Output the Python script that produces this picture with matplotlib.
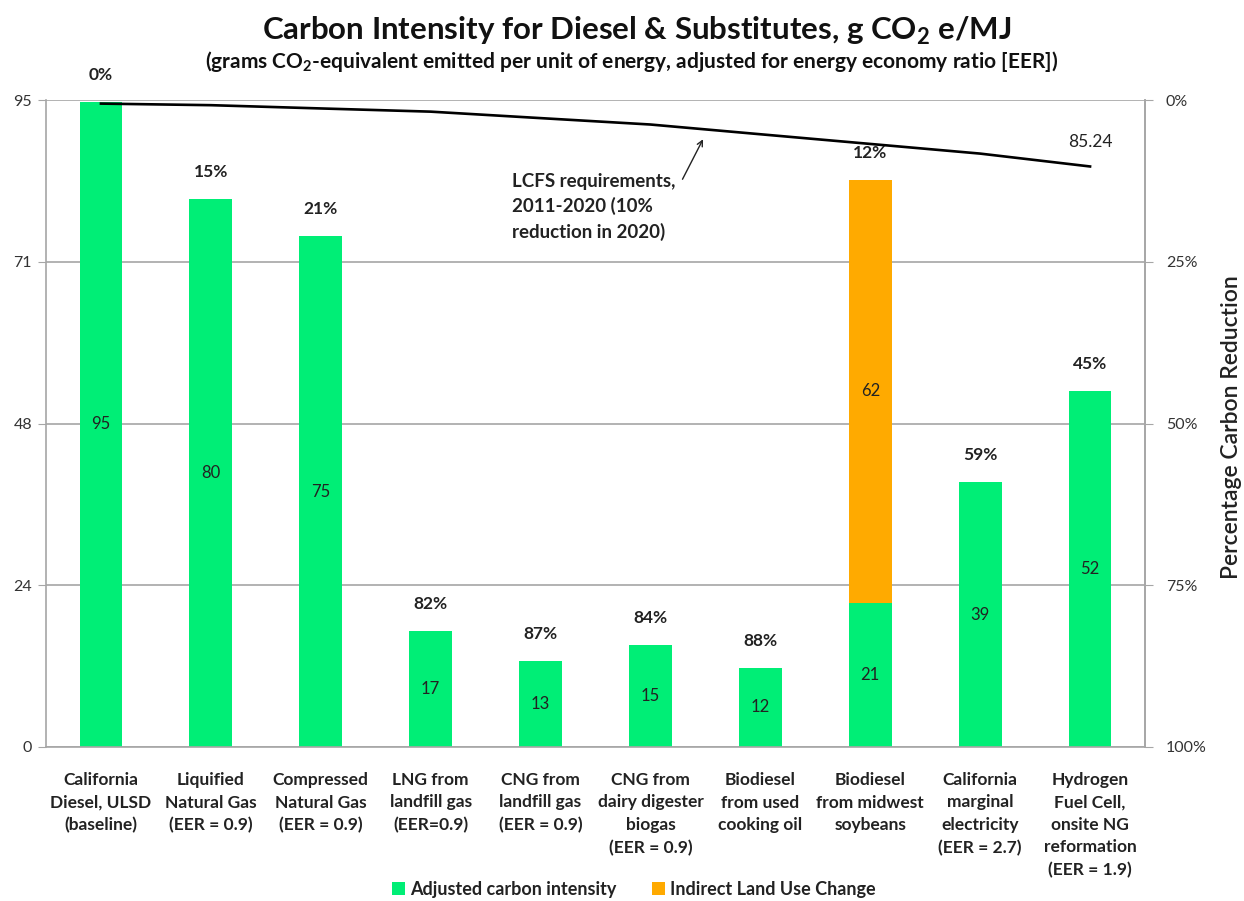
import numpy as np
import matplotlib
matplotlib.use("Agg")
import matplotlib.pyplot as plt

plt.rcParams["font.family"] = ["Lato", "DejaVu Sans"]
plt.rcParams["mathtext.fontset"] = "custom"
plt.rcParams["mathtext.rm"] = "Lato"
plt.rcParams["mathtext.bf"] = "Lato:bold"

# data
categories = [
    "California\nDiesel, ULSD\n(baseline)",
    "Liquified\nNatural Gas\n(EER = 0.9)",
    "Compressed\nNatural Gas\n(EER = 0.9)",
    "LNG from\nlandfill gas\n(EER=0.9)",
    "CNG from\nlandfill gas\n(EER = 0.9)",
    "CNG from\ndairy digester\nbiogas\n(EER = 0.9)",
    "Biodiesel\nfrom used\ncooking oil",
    "Biodiesel\nfrom midwest\nsoybeans",
    "California\nmarginal\nelectricity\n(EER = 2.7)",
    "Hydrogen\nFuel Cell,\nonsite NG\nreformation\n(EER = 1.9)",
]
adjusted_ci = [94.71, 80.4, 75.0, 17.0, 12.6, 15.0, 11.6, 21.2, 38.9, 52.2]
iluc = [0, 0, 0, 0, 0, 0, 0, 62.0, 0, 0]
pct_labels = ["0%", "15%", "21%", "82%", "87%", "84%", "88%", "12%", "59%", "45%"]
# LCFS diesel schedule 2011-2020
lcfs_req = [94.47, 94.24, 93.76, 93.29, 92.34, 91.40, 89.97, 88.55, 87.13, 85.24]

left_ticks = [0, 23.75, 47.5, 71.25, 95]
left_ticklabels = ["0", "24", "48", "71", "95"]
right_ticks = [0, 25, 50, 75, 100]

GREEN = "#00EE76"
ORANGE = "#FFAA00"
GRID = "#A6A6A6"


def main():
    fig = plt.figure(figsize=(12.44, 9.01), dpi=100)
    ax = fig.add_axes([46 / 1244, 1 - 747 / 901, (1145 - 46) / 1244, 647 / 901])

    x = np.arange(len(categories))
    ax.bar(x, adjusted_ci, width=0.39, color=GREEN, zorder=2,
           label="Adjusted carbon intensity")
    ax.bar(x, iluc, width=0.39, bottom=adjusted_ci, color=ORANGE, zorder=2,
           label="Indirect Land Use Change")

    # values inside bars
    for i in range(len(x)):
        ax.text(x[i], adjusted_ci[i] / 2, f"{adjusted_ci[i]:.0f}",
                ha="center", va="center", fontsize=12, color="#222222", zorder=3)
        if iluc[i] > 0:
            ax.text(x[i], adjusted_ci[i] + iluc[i] / 2, f"{iluc[i]:.0f}",
                    ha="center", va="center", fontsize=12, color="#222222", zorder=3)
        ax.annotate(pct_labels[i], (x[i], adjusted_ci[i] + iluc[i]),
                    xytext=(0, 19.5), textcoords="offset points",
                    ha="center", va="center", fontsize=12.5, fontweight="bold",
                    color="#222222")

    # LCFS requirement line
    ax.plot(x, lcfs_req, color="black", lw=1.9, zorder=4)
    ax.annotate(f"{lcfs_req[-1]:.2f}", (x[-1], lcfs_req[-1]),
                xytext=(0, 17.5), textcoords="offset points",
                ha="center", va="center", fontsize=12.5, color="#222222")
    ax.annotate("", xy=(5.49, 89.6), xytext=(5.28, 83.0),
                arrowprops=dict(arrowstyle="->", color="#222222", lw=1.0))
    ax.text(3.74, 84.3, "LCFS requirements,\n2011-2020 (10%\nreduction in 2020)",
            ha="left", va="top", fontsize=13.5, fontweight="bold",
            color="#222222", linespacing=1.5)

    ax.set_xlim(-0.5, len(categories) - 0.5)
    ax.set_ylim(0, 95)
    ax.set_yticks(left_ticks)
    ax.set_yticklabels(left_ticklabels)
    ax.set_xticks(x)
    ax.set_xticklabels(categories, fontsize=12.5, fontweight="bold",
                       color="#222222", linespacing=1.5, va="top")
    ax.tick_params(axis="x", length=0, pad=18)
    ax.tick_params(axis="y", length=6, color=GRID, labelsize=11.5,
                   labelcolor="#333333", pad=4)
    ax.grid(axis="y", color=GRID, lw=1.2, zorder=0)
    ax.spines["top"].set_visible(False)
    for side in ["left", "bottom", "right"]:
        ax.spines[side].set_color(GRID)
        ax.spines[side].set_linewidth(1.2)

    ax2 = ax.twinx()
    ax2.set_ylim(100, 0)
    ax2.set_yticks(right_ticks)
    ax2.set_yticklabels([f"{t}%" for t in right_ticks])
    ax2.tick_params(axis="y", length=6, color=GRID, labelsize=11.5,
                    labelcolor="#333333", pad=9)
    for side in ["top", "left", "bottom"]:
        ax2.spines[side].set_visible(False)
    ax2.spines["right"].set_color(GRID)
    ax2.spines["right"].set_linewidth(1.2)

    fig.text(1232 / 1244, 1 - 427 / 901, "Percentage Carbon Reduction",
             rotation=90, ha="center", va="center", fontsize=16.5,
             fontweight="semibold", color="#222222")

    fig.text(637 / 1244, 1 - 31 / 901,
             r"Carbon Intensity for Diesel & Substitutes, g CO$_\mathbf{2}$ e/MJ",
             ha="center", va="center", fontsize=22.5, fontweight="bold",
             color="#111111")
    fig.text(632 / 1244, 1 - 62 / 901,
             r"(grams CO$_\mathbf{2}$-equivalent emitted per unit of energy, "
             r"adjusted for energy economy ratio [EER])",
             ha="center", va="center", fontsize=15, fontweight="bold",
             color="#111111")

    handles, labels = ax.get_legend_handles_labels()
    leg = fig.legend(handles, labels, loc="center", ncol=2,
                     bbox_to_anchor=(634 / 1244, 1 - 889 / 901), frameon=False,
                     handlelength=0.7, handleheight=0.7, handletextpad=0.3,
                     columnspacing=2.0, prop={"size": 13, "weight": "bold"})
    for t in leg.get_texts():
        t.set_color("#222222")

    fig.savefig("out.png", dpi=100)


if __name__ == "__main__":
    main()
